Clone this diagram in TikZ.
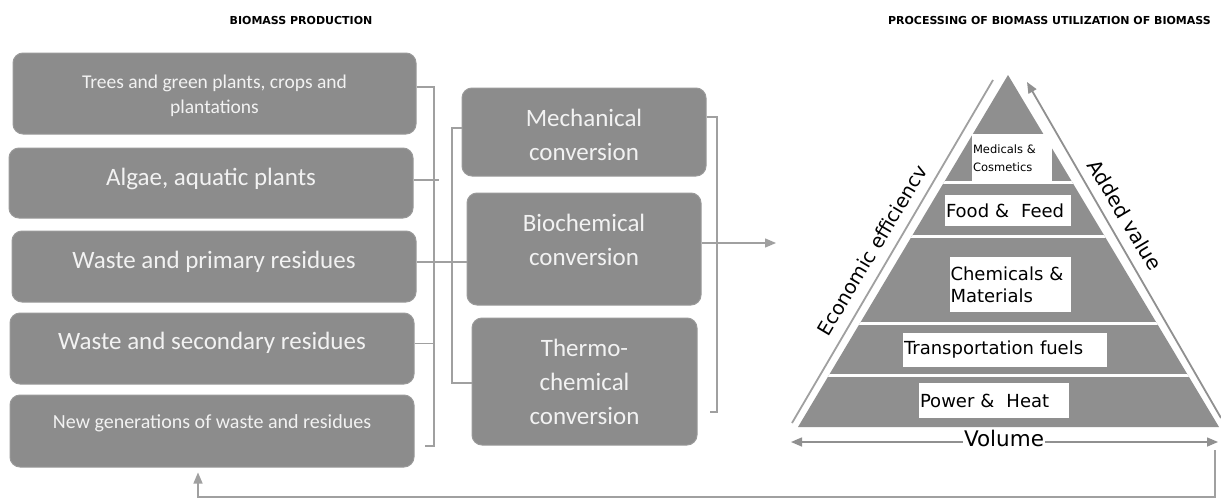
\documentclass[tikz,border=0pt]{standalone}
\usepackage{fontspec}
\setmainfont{Carlito}
\newfontfamily\dvs{DejaVu Sans}
\usetikzlibrary{arrows.meta,calc}
\definecolor{boxgray}{HTML}{8C8C8C}
\definecolor{boxedge}{HTML}{9A9A9A}
\definecolor{pyrgray}{HTML}{8F8F8F}
\definecolor{linegray}{HTML}{A0A0A0}
\definecolor{txtwhite}{HTML}{F2F2F2}
\tikzset{
  lbox/.style={draw=boxedge,fill=boxgray,rounded corners=10pt,line width=1pt,inner sep=0pt},
  btxt/.style={text=txtwhite,align=center,inner sep=0pt},
  conn/.style={draw=linegray,line width=1.3pt},
  wlab/.style={fill=white,inner sep=0pt,align=left,font=\dvs\fontsize{18}{22}\selectfont},
  hdr/.style={font=\dvs\bfseries\fontsize{11}{13}\selectfont,inner sep=0pt},
  tip/.style={-{Triangle[length=11pt,width=9pt]}}
}
\begin{document}
\begin{tikzpicture}[x=1pt,y=-1pt]
\useasboundingbox (0,0) rectangle (1221,501);
\fill[white] (0,0) rectangle (1221,501);

% headers
\node[hdr] (h1) at (301,20) {BIOMASS PRODUCTION};
\node[hdr,anchor=east] (h2) at (1211,20) {PROCESSING OF BIOMASS UTILIZATION OF BIOMASS};

% left boxes
\node[lbox,minimum width=403pt,minimum height=81pt] (b1) at (214.5,93.5) {};
\node[lbox,minimum width=404pt,minimum height=70pt] (b2) at (211,183) {};
\node[lbox,minimum width=404pt,minimum height=71pt] (b3) at (214,266.5) {};
\node[lbox,minimum width=404pt,minimum height=71pt] (b4) at (212,348.5) {};
\node[lbox,minimum width=404pt,minimum height=72pt] (b5) at (212,431) {};
\node[btxt,font=\fontsize{19.5}{25}\selectfont] (t1) at (214.5,95.5) {Trees and green plants, crops and\\plantations};
\node[btxt,font=\fontsize{25}{30}\selectfont] (t2) at (211,179) {Algae, aquatic plants};
\node[btxt,font=\fontsize{25}{30}\selectfont] (t3) at (214,262) {Waste and primary residues};
\node[btxt,font=\fontsize{25}{30}\selectfont] (t4) at (212,343) {Waste and secondary residues};
\node[btxt,font=\fontsize{20}{25}\selectfont] (t5) at (212,423) {New generations of waste and residues};

% middle boxes
\node[lbox,minimum width=244pt,minimum height=88pt] (mech) at (584,132) {};
\node[lbox,minimum width=234pt,minimum height=112pt] (bio) at (584,249) {};
\node[lbox,minimum width=225pt,minimum height=127pt] (thermo) at (584.5,381.5) {};
\node[btxt,font=\fontsize{25}{34}\selectfont] (tm) at (584,135) {Mechanical\\conversion};
\node[btxt,font=\fontsize{25}{34}\selectfont] (tb) at (584,240) {Biochemical\\conversion};
\node[btxt,font=\fontsize{25}{34}\selectfont] (tt) at (584.5,382) {Thermo-\\chemical\\conversion};

% left bracket
\coordinate (LT) at (434,87);
\coordinate (LB) at (434,446);
\draw[conn] ([yshift=6.5pt]b1.east) -- (LT) -- (LB) -- ++(-9,0);
\draw[conn] ([yshift=3pt]b2.east) -- ++(25,0);
\draw[conn] ([yshift=5pt]b4.east) -- ++(20,0);
\draw[conn] ([yshift=4.5pt]b3.east) -- ([yshift=4.5pt]b3.east -| bio.west);

% middle bracket
\coordinate (MT) at (452,128);
\coordinate (MB) at (452,383);
\draw[conn] ([yshift=4pt]mech.west) -- (MT) -- (MB) -- (MB -| thermo.west);

% right bracket
\coordinate (RT) at (717,117);
\coordinate (RB) at (717,412);
\draw[conn] ([yshift=15pt]mech.east) -- (RT) -- (RB) -- ++(-7,0);
\coordinate (into) at (776,243);
\draw[conn,tip] ([yshift=6pt]bio.east) -- (into);

% pyramid
\coordinate (apex) at (1008,75);
\coordinate (BL) at (798,427);
\coordinate (BR) at (1219,427);
\fill[pyrgray] (apex) -- (BL) -- (BR) -- cycle;
\begin{scope}
\clip (apex) -- (BL) -- (BR) -- cycle;
\foreach \yy in {182,236,323,375} \draw[white,line width=3pt] (780,\yy) -- (1230,\yy);
\end{scope}

% side lines
\coordinate (sl1) at (993,80);
\coordinate (sl2) at (792,423);
\draw[linegray,line width=1.8pt] (sl1) -- (sl2);
\coordinate (sr1) at (1221,418);
\coordinate (sr2) at (1027,82);
\draw[draw=linegray!90!black,line width=1.8pt,tip] (sr1) -- (sr2);

% label boxes
\node[wlab,font=\dvs\fontsize{11.5}{18}\selectfont,minimum width=80pt,minimum height=48pt,text width=78pt] (med) at (1012,158) {Medicals \&\\Cosmetics};
\node[wlab,minimum width=126pt,minimum height=31pt,text width=124pt] (food) at (1008,210.5) {Food \&\ \ Feed};
\node[wlab,minimum width=121pt,minimum height=55pt,text width=120pt] (chem) at (1010.5,284.5) {Chemicals \&\\Materials};
\node[wlab,minimum width=204pt,minimum height=34pt,text width=202pt] (trans) at (1005,350) {Transportation fuels};
\node[wlab,minimum width=150pt,minimum height=35pt,text width=148pt] (power) at (994,400.5) {Power \&\ \ Heat};

% axis texts
\node[font=\dvs\fontsize{19.5}{22}\selectfont,rotate=59.2,inner sep=0pt] (eco) at (872,250) {Economic efficiencv};
\node[font=\dvs\fontsize{20}{22}\selectfont,rotate=-59.2,inner sep=0pt] (add) at (1125,215) {Added value};

% volume
\coordinate (vL) at (791,442);
\coordinate (vR) at (1218,442);
\draw[linegray!90!black,line width=1.5pt,{Triangle[length=11pt,width=9pt]}-{Triangle[length=11pt,width=9pt]}] (vL) -- (vR);
\node[fill=white,inner xsep=1pt,inner ysep=0pt,font=\dvs\fontsize{21.5}{24}\selectfont] (vol) at (1004,438) {Volume};

% feedback
\coordinate (fbR) at (1215,450);
\coordinate (fbL) at (198,497);
\draw[conn,tip,shorten >=5pt] (fbR) |- (fbL) -- (b5.south -| fbL);
\end{tikzpicture}
\end{document}
